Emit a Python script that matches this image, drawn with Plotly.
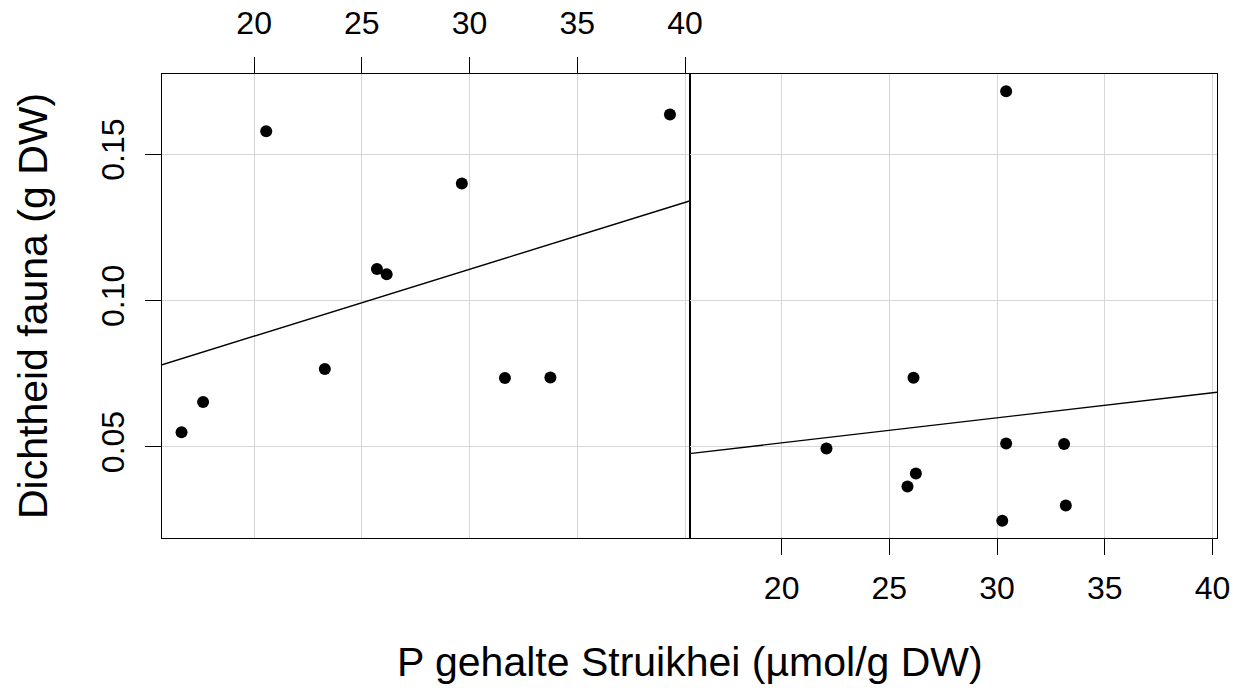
import numpy as np
import plotly.graph_objects as go

# Left panel data
x_left = [16.63, 17.63, 20.56, 23.28, 25.70, 26.15, 29.64, 31.64, 33.75, 39.30]
y_left = [0.0550, 0.0653, 0.1579, 0.0766, 0.1108, 0.1090, 0.1400, 0.0735, 0.0737, 0.1636]

# Right panel data
x_right = [30.42, 26.12, 22.08, 30.42, 33.11, 26.23, 25.84, 33.19, 30.24]
y_right = [0.1716, 0.0736, 0.0494, 0.0511, 0.0510, 0.0409, 0.0364, 0.0299, 0.0247]

x_ticks = [20, 25, 30, 35, 40]
y_ticks = [0.05, 0.10, 0.15]
y_tick_labels = ["0.05", "0.10", "0.15"]

x_title = "P gehalte Struikhei (\u00b5mol/g DW)"
y_title = "Dichtheid fauna (g DW)"

FONT = "Liberation Sans, Arial, Helvetica, sans-serif"


def padded(vals, frac=0.04):
    lo, hi = min(vals), max(vals)
    d = (hi - lo) * frac
    return [lo - d, hi + d]


x_range = padded(x_left + x_right)
y_range = padded(y_left + y_right)

fig = go.Figure()

for xs, ys, xa, ya in [(x_left, y_left, "x", "y"), (x_right, y_right, "x2", "y2")]:
    slope, icpt = np.polyfit(xs, ys, 1)
    lx = np.array(x_range)
    fig.add_trace(go.Scatter(
        x=lx, y=icpt + slope * lx, mode="lines",
        line=dict(color="black", width=1.4),
        xaxis=xa, yaxis=ya, showlegend=False, hoverinfo="skip"))
    fig.add_trace(go.Scatter(
        x=xs, y=ys, mode="markers",
        marker=dict(color="black", size=12, line=dict(width=0)),
        xaxis=xa, yaxis=ya, showlegend=False))

grid = "#d6d6d6"
common_x = dict(range=x_range, tickvals=x_ticks, ticks="outside", ticklen=16,
                tickwidth=1.3, tickcolor="black", showline=True, linecolor="black",
                linewidth=1.3, mirror=True, showgrid=True, gridcolor=grid, gridwidth=1.3,
                zeroline=False, automargin=False,
                tickfont=dict(family=FONT, size=32, color="black"))

fig.update_layout(
    width=1233, height=688,
    margin=dict(l=162, r=16, t=74, b=150),
    paper_bgcolor="white", plot_bgcolor="white",
    font=dict(family=FONT, color="black"),
    xaxis=dict(domain=[0, 0.5], anchor="y", side="top", ticklabelstandoff=10, **common_x),
    xaxis2=dict(domain=[0.5, 1], anchor="y2", side="bottom", ticklabelstandoff=5, **common_x),
    yaxis=dict(domain=[0, 1], anchor="x", range=y_range, tickvals=y_ticks,
               ticktext=y_tick_labels, ticks="outside", ticklen=16, tickwidth=1.3,
               tickcolor="black", tickangle=-90, showline=True, linecolor="black",
               linewidth=1.3, mirror=True, showgrid=True, gridcolor=grid, gridwidth=1.3,
               zeroline=False, ticklabelstandoff=8, automargin=False,
               tickfont=dict(family=FONT, size=32, color="black")),
    yaxis2=dict(domain=[0, 1], anchor="x2", range=y_range, tickvals=y_ticks,
                showticklabels=False, ticks="", showline=True, linecolor="black",
                linewidth=1.3, mirror=True, showgrid=True, gridcolor=grid, gridwidth=1.3,
                zeroline=False, automargin=False),
    annotations=[
        dict(text=x_title, xref="paper", yref="paper", x=0.5,
             y=(537.5 - 661) / 464, xanchor="center", yanchor="middle",
             showarrow=False, font=dict(family=FONT, size=41, color="black")),
        dict(text=y_title, xref="paper", yref="paper", x=(33 - 162) / 1055,
             y=0.5, xanchor="center", yanchor="middle", textangle=-90,
             showarrow=False, font=dict(family=FONT, size=41, color="black")),
    ],
)

fig.write_html("out.html")
